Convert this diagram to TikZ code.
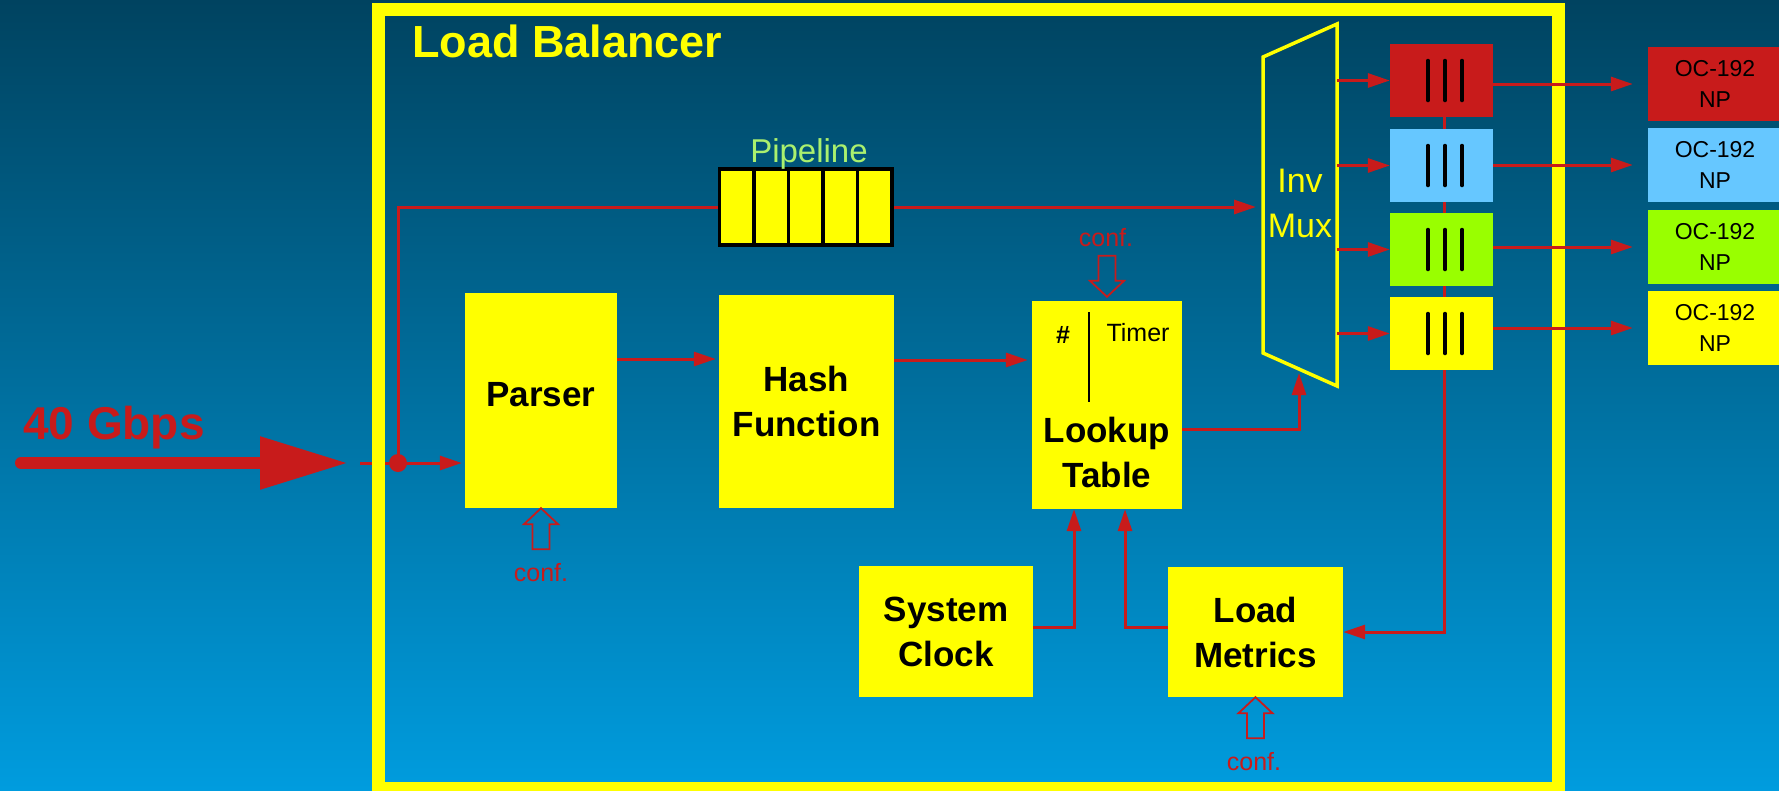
\documentclass[tikz,border=0pt]{standalone}
\usepackage{fontspec}
\setmainfont{Liberation Sans}
\usetikzlibrary{arrows.meta,calc}
\definecolor{bgtop}{RGB}{0,67,96}
\definecolor{bgbot}{RGB}{0,156,222}
\definecolor{lbred}{RGB}{200,27,27}
\definecolor{qblue}{RGB}{102,199,255}
\definecolor{qgreen}{RGB}{153,255,0}
\definecolor{pipegreen}{RGB}{170,240,110}
\definecolor{ybox}{RGB}{255,255,0}
\pgfdeclarelayer{bg}
\pgfdeclarelayer{conn}
\pgfsetlayers{bg,conn,main}
\tikzset{
 box/.style={fill=ybox, draw=none, inner sep=0pt, font=\fontsize{35}{45}\selectfont\bfseries, align=center, text=black},
 redline/.style={draw=lbred, line width=3pt},
 arr/.style={redline, -{Triangle[length=22pt,width=14pt]}},
 cell/.style={fill=ybox, draw=black, line width=3.5pt, minimum width=34.5pt, minimum height=76pt, inner sep=0pt},
 queue/.style={draw=none, minimum width=103pt, minimum height=73pt, inner sep=0pt},
 ocbox/.style={draw=none, minimum width=134pt, minimum height=74pt, inner sep=0pt, align=center, font=\fontsize{23}{31}\selectfont, text=black},
 bar/.style={draw=black, line width=3.5pt, line cap=round},
 conflabel/.style={text=lbred, font=\fontsize{25}{30}\selectfont, inner sep=0pt},
 confarrow/.style={draw=lbred, line width=1.8pt, line join=miter},
}
\newcommand\confUp[1]{\draw[confarrow] (#1) -- ++(17,16) -- ++(-8.5,0) -- ++(0,25) -- ++(-17,0) -- ++(0,-25) -- ++(-8.5,0) -- cycle;}
\newcommand\confDown[1]{\draw[confarrow] (#1) -- ++(17,-16) -- ++(-8.5,0) -- ++(0,-25) -- ++(-17,0) -- ++(0,25) -- ++(-8.5,0) -- cycle;}
\begin{document}
\begin{tikzpicture}[x=1pt,y=-1pt]
\useasboundingbox (0,0) rectangle (1779,790);
\begin{pgfonlayer}{bg}
\shade[top color=bgtop, bottom color=bgbot] (0,0) rectangle (1779,790);
\end{pgfonlayer}

% input
\node[text=lbred, font=\fontsize{46}{54}\selectfont\bfseries, anchor=base west, inner sep=0pt] (rate) at (23,439) {40 Gbps};
\coordinate (src) at (21,463);
\coordinate (bigtip) at (348,463);
\coordinate (gap) at (360,463);
\node[circle, fill=lbred, inner sep=0pt, minimum size=18pt] (dot) at (398,463) {};
\draw[draw=lbred, line width=12pt, line cap=round, -{Triangle[length=88pt,width=50pt]}] (src) -- (bigtip);
\draw[redline] (gap) -- (dot);

% frame
\draw[ybox, line width=13pt] (378,9.5) rectangle (1558.5,788.5);
\node[text=ybox, font=\fontsize{45}{54}\selectfont\bfseries, anchor=base west, inner sep=0pt] (title) at (412,57) {Load Balancer};

% boxes
\node[box, minimum width=152pt, minimum height=215pt, text depth=13pt] (parser) at (541,400.5) {Parser};
\node[box, minimum width=175pt, minimum height=213pt] (hash) at (806.5,401.5) {Hash\\Function};
\node[box, minimum width=150pt, minimum height=208pt] (lookup) at (1107,405) {};
\node[font=\fontsize{35}{45}\selectfont\bfseries, align=center, inner sep=0pt] (ltext) at (1107,452) {Lookup\\Table};
\node[font=\fontsize{25}{30}\selectfont\bfseries, inner sep=0pt] (hashsym) at (1063,335) {\#};
\node[font=\fontsize{25}{30}\selectfont, inner sep=0pt] (timer) at (1138,333) {Timer};
\draw[black, line width=2pt] (1089,312) -- (1089,402);
\node[box, minimum width=174pt, minimum height=131pt] (sysclk) at (946,631.5) {System\\Clock};
\node[box, minimum width=175pt, minimum height=130pt] (loadm) at (1255.5,632) {Load\\Metrics};

% pipeline
\foreach \i/\x in {1/736.75,2/771.25,3/805.75,4/840.25,5/874.75}
  \node[cell] (c\i) at (\x,207) {};
\node[text=pipegreen, font=\fontsize{33}{40}\selectfont, anchor=base, inner sep=0pt] (plabel) at (809,162) {Pipeline};

% inverse mux
\coordinate (mtl) at (1263,57);
\coordinate (mtr) at (1337,24);
\coordinate (mbr) at (1337,386);
\coordinate (mbl) at (1263,353);
\draw[ybox, line width=3.5pt, line join=miter] (mtl) -- (mtr) -- (mbr) -- (mbl) -- cycle;
\node[text=ybox, font=\fontsize{34}{45}\selectfont, align=center, inner sep=0pt] (muxtext) at (1300,203) {Inv\\Mux};
\coordinate (muxin) at (1256,207);
\coordinate (muxbot) at (1299,373);

% queues
\node[queue, fill=lbred] (q1) at (1441.5,80.5) {};
\node[queue, fill=qblue] (q2) at (1441.5,165.5) {};
\node[queue, fill=qgreen] (q3) at (1441.5,249.5) {};
\node[queue, fill=ybox] (q4) at (1441.5,333.5) {};
\foreach \q in {q1,q2,q3,q4}
  \foreach \dx in {-13.5,3.5,20.5}
    \draw[bar] ([xshift=\dx pt, yshift=20pt]\q.center) -- ([xshift=\dx pt, yshift=-20pt]\q.center);

% network processors
\node[ocbox, fill=lbred] (oc1) at (1715,84) {OC-192\\NP};
\node[ocbox, fill=qblue] (oc2) at (1715,165) {OC-192\\NP};
\node[ocbox, fill=qgreen] (oc3) at (1715,247) {OC-192\\NP};
\node[ocbox, fill=ybox] (oc4) at (1715,328) {OC-192\\NP};

% connectors
\draw[arr, shorten >=3pt] (dot.center) -- (parser.west |- dot);
\draw[redline] (dot.center) |- (c1.west);
\draw[arr] (c5.east) -- (muxin);
\draw[arr, shorten >=3pt] (parser.east |- 0,359) -- (hash.west |- 0,359);
\draw[arr, shorten >=4pt] (hash.east |- 0,360) -- (lookup.west |- 0,360);
\draw[arr] ([yshift=-24pt]lookup.east) -| (muxbot);
\draw[arr] ([yshift=4pt]sysclk.east) -| ([xshift=-33pt]lookup.south);
\draw[arr] ([yshift=5pt]loadm.west) -| ([xshift=18pt]lookup.south);
\begin{pgfonlayer}{conn}
\draw[arr] ([xshift=2.5pt]q1.center) |- (loadm.east);
\end{pgfonlayer}
\foreach \i in {1,2,3,4} {
  \draw[arr] (mtr |- q\i) -- (q\i.west);
  \draw[arr] (q\i.east |- oc\i) -- ([xshift=-15pt]oc\i.west);
}

% configuration inputs
\confUp{parser.south}
\node[conflabel] (conf1) at (541,573) {conf.};
\confDown{[yshift=4pt]lookup.north}
\node[conflabel] (conf2) at (1106,238) {conf.};
\confUp{loadm.south}
\node[conflabel] (conf3) at (1254,762) {conf.};
\end{tikzpicture}
\end{document}
